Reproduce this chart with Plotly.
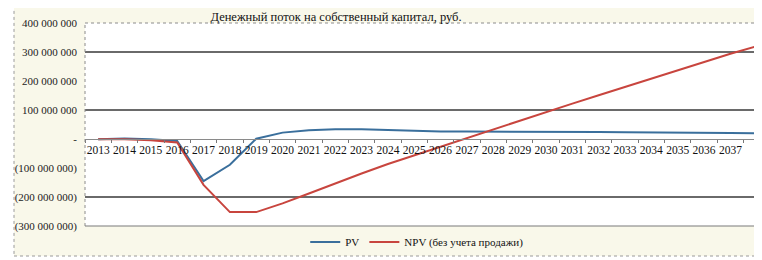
import plotly.graph_objects as go

years = [str(y) for y in range(2013, 2040)]
label_years = [str(y) for y in range(2013, 2038)]
pv_mln = [-1, 2, -1, -7, -145, -89, 1, 22, 30, 34, 34, 31, 27, 26, 26, 26, 25, 25,
          24, 24, 23, 23, 22, 22, 21, 20, 19]
npv_mln = [-1, -1, -4, -12, -158, -252, -252, -222, -188, -153, -119, -86, -56, -26,
           3, 32, 62, 92, 122, 151, 180, 209, 238, 266, 294, 320, 346]
y_ticks = [400e6, 300e6, 200e6, 100e6, 0, -100e6, -200e6, -300e6]
y_labels = ["400 000 000", "300 000 000", "200 000 000", "100 000 000", "-",
            "(100 000 000)", "(200 000 000)", "(300 000 000)"]
grid_vals = [300e6, 100e6, -200e6]

pv = [v * 1e6 for v in pv_mln]
npv = [v * 1e6 for v in npv_mln]

FONT = "Liberation Serif"
BLUE = "#3a6f9c"
RED = "#c8453e"

W, H = 754, 252          # page body has an 8px margin
L, T, B = 77, 15, 34
PW, PH = W - L, H - T - B

fig = go.Figure()
fig.add_trace(go.Scatter(x=years, y=pv, mode="lines", name="PV",
                         line=dict(color=BLUE, width=2)))
fig.add_trace(go.Scatter(x=years, y=npv, mode="lines", name="NPV (без учета продажи)",
                         line=dict(color=RED, width=2)))
fig.add_trace(go.Scatter(x=[years[0]], y=[0], yaxis="y2", mode="markers",
                         marker=dict(opacity=0), showlegend=False, hoverinfo="skip"))

yr = [-300e6, 400e6]
fig.update_layout(
    width=W, height=H,
    margin=dict(l=L, r=0, t=T, b=B),
    paper_bgcolor="white",
    plot_bgcolor="rgba(0,0,0,0)",
    font=dict(family=FONT, size=11, color="#1a1a1a"),
    title=dict(text="Денежный поток на собственный капитал, руб.",
               x=328 / W, xanchor="center", y=1 - 9 / H, yanchor="middle",
               font=dict(family=FONT, size=12.5, color="#111")),
    xaxis=dict(type="category", categoryorder="array", categoryarray=years,
               range=[-0.5, 25.2], tickvals=label_years, ticktext=label_years,
               tickson="boundaries", ticks="outside", ticklen=3, tickcolor="#777",
               tickangle=0,
               showgrid=False, showline=True, linecolor="#8a8a8a", linewidth=1,
               anchor="free", position=3 / 7, zeroline=False,
               tickfont=dict(family=FONT, size=11.5, color="#111")),
    yaxis=dict(range=yr, tickvals=y_ticks, ticktext=y_labels, showgrid=False,
               zeroline=False, showline=False, ticks="", ticklabelstandoff=7,
               tickfont=dict(family=FONT, size=11, color="#222")),
    yaxis2=dict(range=yr, overlaying="y", tickvals=grid_vals, showticklabels=False,
                showgrid=True, gridcolor="#6a6a6a", gridwidth=1.5, zeroline=False,
                showline=False, ticks=""),
    legend=dict(orientation="h", x=0.49, xanchor="center", y=-16 / PH, yanchor="middle",
                bgcolor="rgba(0,0,0,0)", font=dict(family=FONT, size=11, color="#111"),
                itemwidth=30, tracegroupgap=0),
    showlegend=True,
    shapes=[
        dict(type="rect", xref="paper", yref="paper",
             x0=-(L - 6) / PW, x1=1.02, y0=-30 / PH, y1=1 + 19 / PH,
             fillcolor="#f9f8ea", line=dict(color="#9a9a9a", width=1, dash="dot"),
             layer="below"),
        dict(type="rect", xref="paper", yref="paper", x0=0, x1=1.01, y0=0, y1=1,
             fillcolor="white", line=dict(width=0), layer="below"),
        dict(type="line", xref="paper", yref="paper", x0=0, x1=1, y0=1, y1=1,
             line=dict(color="#8c8c8c", width=1, dash="dot")),
        dict(type="line", xref="paper", yref="paper", x0=0, x1=0, y0=0, y1=1,
             line=dict(color="#8c8c8c", width=1, dash="dot")),
        dict(type="line", xref="paper", yref="paper", x0=0, x1=1, y0=0, y1=0,
             line=dict(color="#7a7a7a", width=1.2)),
        dict(type="line", xref="paper", yref="paper", x0=-(L - 6) / PW, x1=1.02,
             y0=1 + 19 / PH, y1=1 + 19 / PH, line=dict(color="#6a6a6a", width=1.5)),
    ],
)

fig.write_html("out.html")
